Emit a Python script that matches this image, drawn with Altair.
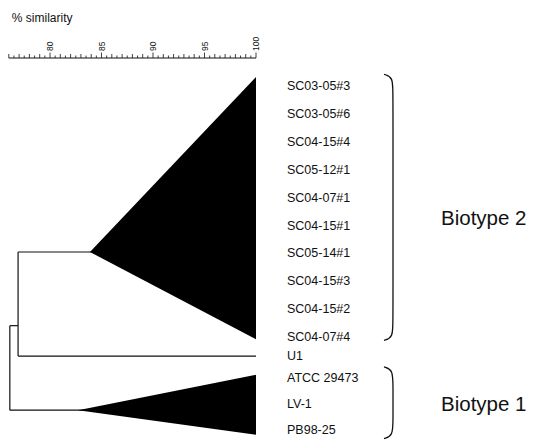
import altair as alt
import pandas as pd

# ---------------- data ----------------
leaves = ["SC03-05#3", "SC03-05#6", "SC04-15#4", "SC05-12#1", "SC04-07#1",
          "SC04-15#1", "SC05-14#1", "SC04-15#3", "SC04-15#2", "SC04-07#4",
          "U1", "ATCC 29473", "LV-1", "PB98-25"]
leaf_rows = [0, 1, 2, 3, 4, 5, 6, 7, 8, 9, 9.68, 10.45, 11.4, 12.32]

# collapsed clusters (triangles): similarity of apex, apex row, base extent rows
cluster_names = ["Biotype 2", "Biotype 1"]
cluster_sim = [83.88, 82.72]
cluster_apex_row = [5.95, 11.62]
cluster_top_row = [-0.32, 10.35]
cluster_bottom_row = [9.08, 12.5]
group_label_row = [4.75, 11.45]
group_bracket_top = [-0.42, 10.07]
group_bracket_bottom = [9.12, 12.64]

# internal nodes
node_u1_sim = 76.9     # Biotype 2 + U1
node_root_sim = 76.1   # root

# tree branches (x1 -> x2 at rows r1 -> r2); cluster stems run into their triangle
seg_x1 = [node_u1_sim, node_u1_sim, node_u1_sim, node_root_sim, node_root_sim, node_root_sim]
seg_x2 = [100, 100, node_u1_sim, node_u1_sim, 100, node_root_sim]
seg_r1 = [9.68, 5.95, 5.95, 8.59, 11.62, 8.59]
seg_r2 = [9.68, 5.95, 9.68, 8.59, 11.62, 11.62]

# similarity ruler
tick_major_labels = [80, 85, 90, 95, 100]
ruler_start, ruler_end = 76, 100

# ---------------- geometry ----------------
W, H = 524, 432
PXU = 10.3       # px per % similarity
ROW_PX = 27.9    # px per leaf row
ROW0_PX = 78     # chart px of first leaf row
X0 = 100 - 248 / PXU
X1 = X0 + W / PXU
R0 = -ROW0_PX / ROW_PX
R1 = R0 + H / ROW_PX
AXIS_R = (50 - ROW0_PX) / ROW_PX

xs = alt.Scale(domain=[X0, X1], nice=False, zero=False)
ys = alt.Scale(domain=[R0, R1], reverse=True, nice=False, zero=False)
FONT = "Liberation Sans"


def X(f="x"):
    return alt.X(f"{f}:Q", scale=xs, axis=None)


def Y(f="r"):
    return alt.Y(f"{f}:Q", scale=ys, axis=None)


# branches
seg_df = pd.DataFrame({"x": seg_x1, "x2": seg_x2, "r": seg_r1, "r2": seg_r2})
branches = alt.Chart(seg_df).mark_rule(color="#111", strokeWidth=1.2).encode(
    x=X(), x2="x2:Q", y=Y(), y2="r2:Q")

# triangles
tri_rows = []
for n, s, a, t, b in zip(cluster_names, cluster_sim, cluster_apex_row, cluster_top_row, cluster_bottom_row):
    tri_rows.append({"c": n, "x": s, "r": a, "r2": a})
    tri_rows.append({"c": n, "x": 100, "r": t, "r2": b})
tri_df = pd.DataFrame(tri_rows)
triangles = alt.Chart(tri_df).mark_area(color="black", opacity=1, orient="vertical").encode(
    x=X(), y=Y(), y2="r2:Q", detail="c:N")

# leaf labels
leaf_df = pd.DataFrame({"name": leaves, "x": [100] * len(leaves), "r": leaf_rows})
leaf_text = alt.Chart(leaf_df).mark_text(
    align="left", baseline="middle", dx=31, font=FONT, fontSize=12.5, color="#111"
).encode(x=X(), y=Y(), text="name:N")

# group labels
grp_df = pd.DataFrame({"name": cluster_names, "x": [100, 100], "r": group_label_row})
grp_text = alt.Chart(grp_df).mark_text(
    align="left", baseline="middle", dx=185, font=FONT, fontSize=20.5, color="#111"
).encode(x=X(), y=Y(), text="name:N")

# brackets
bx_in = 100 + (384 - 256) / PXU
bx_out = 100 + (393 - 256) / PXU
br_rows = []
for n, t, b in zip(cluster_names, group_bracket_top, group_bracket_bottom):
    pts = [(bx_in, t), (bx_out, t + 0.1), (bx_out, t + 0.7),
           (bx_out, b - 0.7), (bx_out, b - 0.1), (bx_in, b)]
    for i, (px, pr) in enumerate(pts):
        br_rows.append({"c": n, "i": i, "x": px, "r": pr})
br_df = pd.DataFrame(br_rows)
brackets = alt.Chart(br_df).mark_line(color="#111", strokeWidth=1.3, interpolate="basis").encode(
    x=X(), y=Y(), detail="c:N", order="i:Q")

# ruler
ticks = []
v = ruler_start
while v <= ruler_end + 1e-9:
    if abs(v - round(v)) > 1e-9:
        ln = 2.5
    elif round(v) % 5 == 0:
        ln = 5.5
    else:
        ln = 4
    ticks.append({"x": v, "r": AXIS_R, "r2": AXIS_R - ln / ROW_PX})
    v += 0.5
tick_df = pd.DataFrame(ticks)
tick_rules = alt.Chart(tick_df).mark_rule(color="#111", strokeWidth=0.8).encode(
    x=X(), y=Y(), y2="r2:Q")
ruler_df = pd.DataFrame({"x": [ruler_start], "x2": [ruler_end], "r": [AXIS_R]})
ruler = alt.Chart(ruler_df).mark_rule(color="#111", strokeWidth=1).encode(
    x=X(), x2="x2:Q", y=Y())
lab_df = pd.DataFrame({"x": tick_major_labels, "r": [AXIS_R] * 5,
                       "t": [str(t) for t in tick_major_labels]})
tick_labels = alt.Chart(lab_df).mark_text(
    angle=270, align="left", baseline="middle", dx=7, font=FONT, fontSize=8.5, color="#111"
).encode(x=X(), y=Y(), text="t:N")

title_df = pd.DataFrame({"x": [ruler_start], "r": [AXIS_R], "t": ["% similarity"]})
title = alt.Chart(title_df).mark_text(
    align="left", baseline="middle", dx=3, dy=-40, font=FONT, fontSize=12, color="#111"
).encode(x=X(), y=Y(), text="t:N")

chart = alt.layer(
    branches, triangles, brackets, leaf_text, grp_text,
    tick_rules, ruler, tick_labels, title
).properties(
    width=W, height=H, autosize=alt.AutoSizeParams(type="none"), padding=0
).configure_view(stroke=None)

chart.save("out.html", embed_options={"renderer": "svg", "actions": False})
